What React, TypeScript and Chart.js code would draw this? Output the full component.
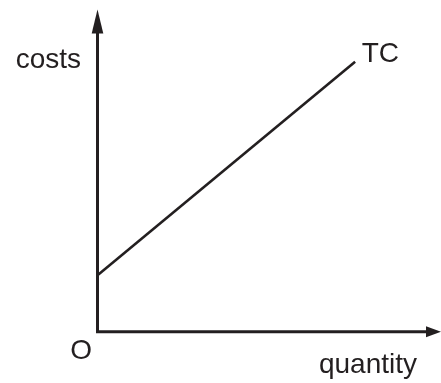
import React, { useEffect, useRef } from "react";
import { Chart, registerables } from "chart.js";

Chart.register(...registerables);

const quantity = [0, 7.5];
const totalCost = [1.75, 8.38];
const seriesLabel = "TC";
const xAxisLabel = "quantity";
const yAxisLabel = "costs";
const originLabel = "O";

const INK = "#231f20";
const FONT = "28px 'Liberation Sans', Arial, sans-serif";

const diagramPlugin = {
  id: "diagram",
  afterDatasetsDraw(chart: any) {
    const { ctx, scales } = chart;
    const xs = scales.x;
    const ys = scales.y;
    const x0 = xs.getPixelForValue(0);
    const y0 = ys.getPixelForValue(0);
    const xEnd = xs.getPixelForValue(xs.max);
    const yEnd = ys.getPixelForValue(ys.max);
    ctx.save();
    ctx.strokeStyle = INK;
    ctx.fillStyle = INK;
    ctx.lineWidth = 3;
    ctx.lineCap = "butt";
    // axes
    ctx.beginPath();
    ctx.moveTo(x0, yEnd + 20);
    ctx.lineTo(x0, y0);
    ctx.lineTo(xEnd - 12, y0);
    ctx.stroke();
    // y arrow
    ctx.beginPath();
    ctx.moveTo(x0, yEnd);
    ctx.lineTo(x0 - 5.8, yEnd + 24);
    ctx.lineTo(x0 + 5.8, yEnd + 24);
    ctx.closePath();
    ctx.fill();
    // x arrow
    ctx.beginPath();
    ctx.moveTo(xEnd, y0);
    ctx.lineTo(xEnd - 15, y0 - 5.5);
    ctx.lineTo(xEnd - 15, y0 + 5.5);
    ctx.closePath();
    ctx.fill();
    // labels
    ctx.font = FONT;
    ctx.textBaseline = "alphabetic";
    ctx.textAlign = "right";
    ctx.fillText(yAxisLabel, x0 - 16.5, yEnd + 58);
    ctx.fillText(originLabel, x0 - 5.5, y0 + 27.5);
    ctx.fillText(xAxisLabel, xEnd - 24, y0 + 41.5);
    const last = quantity.length - 1;
    const lx = xs.getPixelForValue(quantity[last]);
    const ly = ys.getPixelForValue(totalCost[last]);
    ctx.textAlign = "left";
    ctx.fillText(seriesLabel, lx + 6.5, ly + 0.5);
    ctx.restore();
  },
};

export default function App() {
  const canvasRef = useRef<HTMLCanvasElement | null>(null);

  useEffect(() => {
    if (!canvasRef.current) return;
    const chart = new Chart(canvasRef.current, {
      type: "scatter",
      data: {
        datasets: [
          {
            label: seriesLabel,
            data: quantity.map((q, i) => ({ x: q, y: totalCost[i] })),
            showLine: true,
            borderColor: INK,
            borderWidth: 2.6,
            pointRadius: 0,
            fill: false,
          },
        ],
      },
      options: {
        animation: false,
        responsive: false,
        devicePixelRatio: 1,
        layout: { padding: { left: 97.5, top: 9.5, right: 0, bottom: 51.3 } },
        plugins: { legend: { display: false }, tooltip: { enabled: false } },
        scales: {
          x: { type: "linear", min: 0, max: 10, display: false },
          y: { type: "linear", min: 0, max: 10, display: false },
        },
      },
      plugins: [diagramPlugin],
    });
    return () => chart.destroy();
  }, []);

  return (
    <div style={{ position: "fixed", left: 0, top: 0, width: 441, height: 383, background: "#fff" }}>
      <canvas ref={canvasRef} width={441} height={383} style={{ width: 441, height: 383, display: "block" }} />
    </div>
  );
}
